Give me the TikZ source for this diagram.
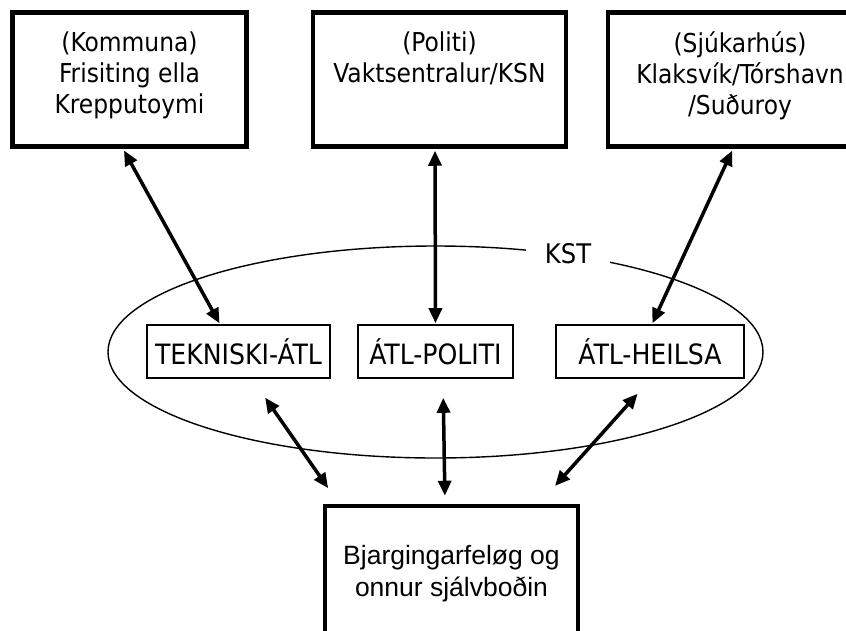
\documentclass[tikz,border=0pt]{standalone}
\usepackage{fontspec}
\usepackage{tikz}
\usetikzlibrary{arrows.meta}
\newfontfamily\tahfont{DejaVu Sans Condensed}
\newfontfamily\arifont{Liberation Sans}

\begin{document}
\begin{tikzpicture}[x=1pt,y=-1pt,
    bigbox/.style={draw,line width=4.5pt,inner sep=0pt},
    atlbox/.style={draw,line width=1.6pt,inner sep=0pt,minimum height=53pt,font=\tahfont\fontsize{28}{30}\selectfont},
    toptext/.style={anchor=north,inner sep=0pt,align=center,font=\tahfont\fontsize{26}{31}\selectfont},
    link/.style={line width=3.5pt,{Triangle[length=15pt,width=13pt]}-{Triangle[length=15pt,width=13pt]}}]
    \clip (0,0) rectangle (846,630);

    % top boxes
    \node[bigbox,minimum width=234pt,minimum height=134pt] (kom) at (129.5,79.5) {};
    \node[bigbox,minimum width=253pt,minimum height=134pt] (pol) at (439.5,79.5) {};
    \node[bigbox,minimum width=264pt,minimum height=134pt] (sju) at (740,79.5) {};
    \node[toptext] (komtxt) at ([yshift=-21pt]kom.north) {(Kommuna)\\Frisiting ella\\Krepputoymi};
    \node[toptext] (poltxt) at ([yshift=-21pt]pol.north) {(Politi)\\Vaktsentralur/KSN};
    \node[toptext] (sjutxt) at ([yshift=-21pt]sju.north) {(Sjúkarhús)\\Klaksvík/Tórshavn\\/Suðuroy};

    % KST
    \draw[line width=1.4pt] (435.5,352) ellipse [x radius=327.5, y radius=106];
    \node[fill=white,inner xsep=19pt,inner ysep=4pt,font=\tahfont\fontsize{27}{30}\selectfont] (kst) at (568,254) {KST};

    \node[atlbox,minimum width=183pt] (tek) at (238.5,351.5) {TEKNISKI-ÁTL};
    \node[atlbox,minimum width=155pt] (atlpol) at (435.5,351.5) {ÁTL-POLITI};
    \node[atlbox,minimum width=188pt] (heil) at (650,351.5) {ÁTL-HEILSA};

    % bottom box
    \node[bigbox,minimum width=253pt,minimum height=194pt] (bjarg) at (451.5,603) {};
    \node[inner sep=0pt,align=center,font=\arifont\fontsize{26.5}{32}\selectfont] (bjtxt) at (451.5,574) {Bjargingarfeløg og\\onnur sjálvboðin};

    \draw[link,shorten <=2pt,shorten >=1pt] ([xshift=-6.5pt]kom.south) -- ([xshift=-18.5pt]tek.north);
    \draw[link,shorten <=2pt,shorten >=1pt] ([xshift=-4.5pt]pol.south) -- (atlpol.north);
    \draw[link,shorten <=2pt,shorten >=1pt] ([xshift=-7pt]sju.south) -- ([xshift=2pt]heil.north);

    \draw[link,shorten <=23pt,shorten >=19pt] ([xshift=13.5pt]tek.south) -- ([xshift=-112.5pt]bjarg.north);
    \draw[link,shorten <=19pt,shorten >=8pt] ([xshift=7.5pt]atlpol.south) -- ([xshift=-6.5pt]bjarg.north);
    \draw[link,shorten <=20pt,shorten >=24pt] ([xshift=1pt]heil.south) -- ([xshift=87.5pt]bjarg.north);
\end{tikzpicture}
\end{document}
